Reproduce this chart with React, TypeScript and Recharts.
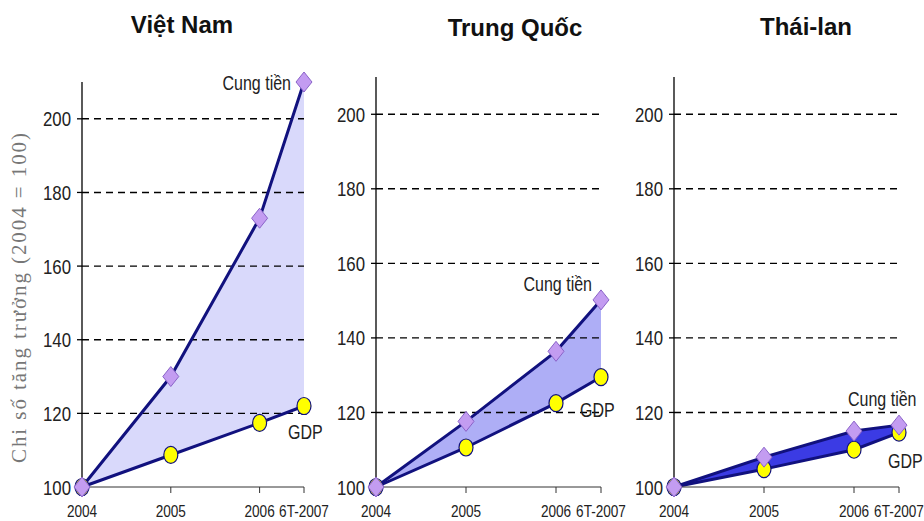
import React from 'react';
import { ComposedChart, Area, Line, XAxis, YAxis, ReferenceLine } from 'recharts';

// periods: 6T-2007 = first half of 2007, placed half a year after 2006
const PERIODS = ['2004', '2005', '2006', '6T-2007'];
const PERIOD_POS = [2004, 2005, 2006, 2006.5];

const VN_MONEY = [100, 130, 173, 210];
const VN_GDP = [100, 108.7, 117.4, 122];
const CN_MONEY = [100, 117.6, 136.4, 150.2];
const CN_GDP = [100, 110.6, 122.5, 129.5];
const TH_MONEY = [100, 108, 115, 116.6];
const TH_GDP = [100, 104.8, 110, 114.6];

const Y_TICKS = [100, 120, 140, 160, 180, 200];

const NAVY = '#11117e';
const SANS = '"Liberation Sans", Arial, sans-serif';

type LabelCfg = { dx: number; dy: number; anchor: 'start' | 'end' | 'middle' };

type PanelProps = {
  title: string;
  money: number[];
  gdp: number[];
  fill: string;
  axisX: number;
  plotRight: number;
  plotTop: number;
  titleX: number;
  titleY: number;
  moneyLabel: LabelCfg;
  gdpLabel: LabelCfg;
};

const Y_AXIS_W = 70;
const RIGHT_PAD = 25;

// no narrow face installed, so squeeze the regular one horizontally
const NarrowText = ({ x, y, anchor, size, squeeze = 0.8, children }: any) => (
  <g transform={`translate(${x},${y})`}>
    <text transform={`scale(${squeeze},1)`} textAnchor={anchor} fontFamily={SANS} fontSize={size} fill="#222">
      {children}
    </text>
  </g>
);

const YTick = (props: any) => {
  const { x, y, payload } = props;
  return (
    <NarrowText x={x} y={y + 7.5} anchor="end" size={21}>
      {payload.value}
    </NarrowText>
  );
};

const XTick = (props: any) => {
  const { x, y, payload } = props;
  return (
    <NarrowText x={x} y={y + 22} anchor="middle" size={16} squeeze={0.85}>
      {PERIODS[PERIOD_POS.indexOf(payload.value)]}
    </NarrowText>
  );
};

const Diamond = (props: any) => {
  const { cx, cy } = props;
  if (cx == null || cy == null) return <g />;
  return (
    <path
      d={`M${cx},${cy - 10} L${cx + 8},${cy} L${cx},${cy + 10} L${cx - 8},${cy} Z`}
      fill="#c39cf1"
      stroke="#8a63c8"
      strokeWidth={1}
    />
  );
};

const Dot = (props: any) => {
  const { cx, cy } = props;
  if (cx == null || cy == null) return <g />;
  return <ellipse cx={cx} cy={cy} rx={7} ry={8.5} fill="#ffff00" stroke={NAVY} strokeWidth={1.2} />;
};

const endLabel = (text: string, cfg: LabelCfg) => (props: any) => {
  const { x, y, index } = props;
  if (index !== PERIODS.length - 1) return <g />;
  return (
    <NarrowText x={x + cfg.dx} y={y + cfg.dy} anchor={cfg.anchor} size={20}>
      {text}
    </NarrowText>
  );
};

const Panel: React.FC<PanelProps> = (p) => {
  const data = PERIOD_POS.map((pos, i) => ({
    x: pos,
    money: p.money[i],
    gdp: p.gdp[i],
    band: [p.gdp[i], p.money[i]],
  }));
  const width = Y_AXIS_W + (p.plotRight - p.axisX) + RIGHT_PAD;
  return (
    <div style={{ position: 'absolute', left: p.axisX - Y_AXIS_W, top: 0 }}>
      <ComposedChart
        width={width}
        height={521}
        data={data}
        margin={{ top: p.plotTop, right: RIGHT_PAD, bottom: 4, left: 0 }}
      >
        {Y_TICKS.slice(1).map((t) => (
          <ReferenceLine key={t} y={t} stroke="#000" strokeWidth={1.4} strokeDasharray="7 5" />
        ))}
        <XAxis
          dataKey="x"
          type="number"
          domain={[2004, 2006.5]}
          ticks={PERIOD_POS}
          height={30}
          tickSize={6}
          stroke="#333"
          tick={<XTick />}
          interval={0}
        />
        <YAxis
          type="number"
          domain={[100, 210]}
          ticks={Y_TICKS}
          width={Y_AXIS_W}
          tickSize={5}
          tickMargin={6}
          stroke="#000"
          strokeWidth={1.3}
          tick={<YTick />}
          interval={0}
        />
        <Area dataKey="band" stroke="none" fill={p.fill} fillOpacity={1} isAnimationActive={false} />
        <Line
          dataKey="gdp"
          stroke={NAVY}
          strokeWidth={3}
          dot={<Dot />}
          activeDot={false}
          label={endLabel('GDP', p.gdpLabel)}
          isAnimationActive={false}
        />
        <Line
          dataKey="money"
          stroke={NAVY}
          strokeWidth={3}
          dot={<Diamond />}
          activeDot={false}
          label={endLabel('Cung tiền', p.moneyLabel)}
          isAnimationActive={false}
        />
      </ComposedChart>
      <div
        style={{
          position: 'absolute',
          left: p.titleX - (p.axisX - Y_AXIS_W) - 100,
          top: p.titleY,
          width: 200,
          textAlign: 'center',
          fontFamily: SANS,
          fontWeight: 'bold',
          fontSize: 24,
          color: '#111',
        }}
      >
        {p.title}
      </div>
    </div>
  );
};

export default function App() {
  return (
    <div style={{ position: 'absolute', left: 0, top: 0, width: 924, height: 521, background: '#fff', overflow: 'hidden' }}>
      <Panel
        title="Việt Nam"
        money={VN_MONEY}
        gdp={VN_GDP}
        fill="#d9d9fb"
        axisX={82}
        plotRight={304}
        plotTop={82}
        titleX={182}
        titleY={11}
        moneyLabel={{ dx: -13, dy: 8, anchor: 'end' }}
        gdpLabel={{ dx: -16, dy: 33, anchor: 'start' }}
      />
      <Panel
        title="Trung Quốc"
        money={CN_MONEY}
        gdp={CN_GDP}
        fill="#aeaef6"
        axisX={376}
        plotRight={601}
        plotTop={77}
        titleX={515}
        titleY={14}
        moneyLabel={{ dx: -9, dy: -9, anchor: 'end' }}
        gdpLabel={{ dx: -21, dy: 40, anchor: 'start' }}
      />
      <Panel
        title="Thái-lan"
        money={TH_MONEY}
        gdp={TH_GDP}
        fill="#3b3be4"
        axisX={674}
        plotRight={899}
        plotTop={77}
        titleX={806}
        titleY={13}
        moneyLabel={{ dx: -51, dy: -19, anchor: 'start' }}
        gdpLabel={{ dx: -11, dy: 35, anchor: 'start' }}
      />
      <svg width={40} height={521} style={{ position: 'absolute', left: 0, top: 0 }}>
        <text
          transform="translate(26,298) rotate(-90)"
          textAnchor="middle"
          fontFamily='"Liberation Serif", "Times New Roman", serif'
          fontSize={21}
          fill="#777"
          textLength={330}
          lengthAdjust="spacing"
        >
          Chi số tăng trưởng (2004 = 100)
        </text>
      </svg>
    </div>
  );
}
